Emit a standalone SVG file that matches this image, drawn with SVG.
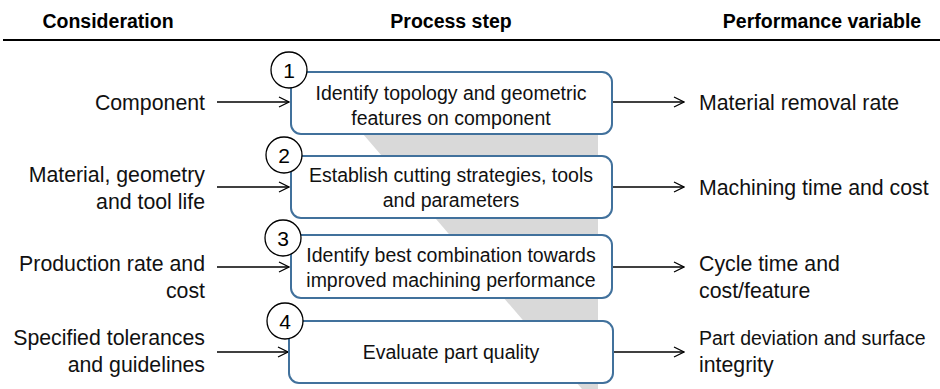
<svg xmlns="http://www.w3.org/2000/svg" width="940" height="389" viewBox="0 0 940 389">
<defs>
<marker id="ah" markerWidth="12" markerHeight="12" refX="11" refY="6" orient="auto" markerUnits="userSpaceOnUse">
<path d="M1,1 L11,6 L1,11" fill="none" stroke="#000" stroke-width="1.3"/>
</marker>
<style>
.h{font-family:"Liberation Sans",Arial,sans-serif;font-weight:bold;font-size:19.5px;fill:#000;text-anchor:middle}
.t{font-family:"Liberation Sans",Arial,sans-serif;font-size:21.3px;fill:#111}
.b{font-family:"Liberation Sans",Arial,sans-serif;font-size:19.5px;fill:#111;text-anchor:middle}
.box{fill:#fff;stroke:#41719C;stroke-width:2}
.c{fill:#fff;stroke:#000;stroke-width:1.3}
.n{font-family:"Liberation Sans",Arial,sans-serif;font-size:21px;fill:#000;text-anchor:middle}
.ar{stroke:#000;stroke-width:1.3;fill:none;marker-end:url(#ah)}
</style>
</defs>
<rect width="940" height="389" fill="#fff"/>
<text class="h" x="108" y="28">Consideration</text>
<text class="h" x="451" y="28">Process step</text>
<text class="h" x="822" y="28">Performance variable</text>
<line x1="3" y1="40" x2="940" y2="40" stroke="#000" stroke-width="2"/>
<polygon points="363,134 598,134 598,389 582,389" fill="#d9d9d9"/>
<g id="connectors">
<line class="ar" x1="217" y1="102" x2="289" y2="102"/>
<line class="ar" x1="217" y1="187" x2="289" y2="187"/>
<line class="ar" x1="217" y1="267" x2="289" y2="267"/>
<line class="ar" x1="217" y1="352" x2="288" y2="352"/>
<line class="ar" x1="612" y1="102" x2="684" y2="102"/>
<line class="ar" x1="612" y1="187" x2="684" y2="187"/>
<line class="ar" x1="612" y1="267" x2="684" y2="267"/>
<line class="ar" x1="613" y1="352" x2="684" y2="352"/>
</g>
<g id="left" class="t" text-anchor="end">
<text x="205" y="110">Component</text>
<text x="205" y="182">Material, geometry</text>
<text x="205" y="209">and tool life</text>
<text x="205" y="271">Production rate and</text>
<text x="205" y="298">cost</text>
<text x="205" y="345">Specified tolerances</text>
<text x="205" y="372">and guidelines</text>
</g>
<g id="right" class="t">
<text x="699" y="110">Material removal rate</text>
<text x="699" y="195">Machining time and cost</text>
<text x="699" y="271">Cycle time and</text>
<text x="699" y="298">cost/feature</text>
<text x="699" y="345" style="font-size:19.5px">Part deviation and surface</text>
<text x="699" y="372">integrity</text>
</g>
<g id="step1">
<rect class="box" x="291" y="72" width="321" height="62" rx="10"/>
<circle class="c" cx="289" cy="70" r="18"/>
<text class="n" x="289" y="78">1</text>
<text class="b" x="451" y="100">Identify topology and geometric</text>
<text class="b" x="451" y="125">features on component</text>
</g>
<g id="step2">
<rect class="box" x="291" y="156" width="321" height="62" rx="10"/>
<circle class="c" cx="284" cy="155" r="18"/>
<text class="n" x="284" y="163">2</text>
<text class="b" x="451" y="182">Establish cutting strategies, tools</text>
<text class="b" x="451" y="207">and parameters</text>
</g>
<g id="step3">
<rect class="box" x="291" y="235" width="321" height="63" rx="10"/>
<circle class="c" cx="283" cy="238" r="18"/>
<text class="n" x="283" y="246">3</text>
<text class="b" x="451" y="262">Identify best combination towards</text>
<text class="b" x="451" y="287">improved machining performance</text>
</g>
<g id="step4">
<rect class="box" x="289" y="321" width="324" height="62" rx="10"/>
<circle class="c" cx="285" cy="321" r="18"/>
<text class="n" x="285" y="329">4</text>
<text class="b" x="451" y="359">Evaluate part quality</text>
</g>
</svg>
